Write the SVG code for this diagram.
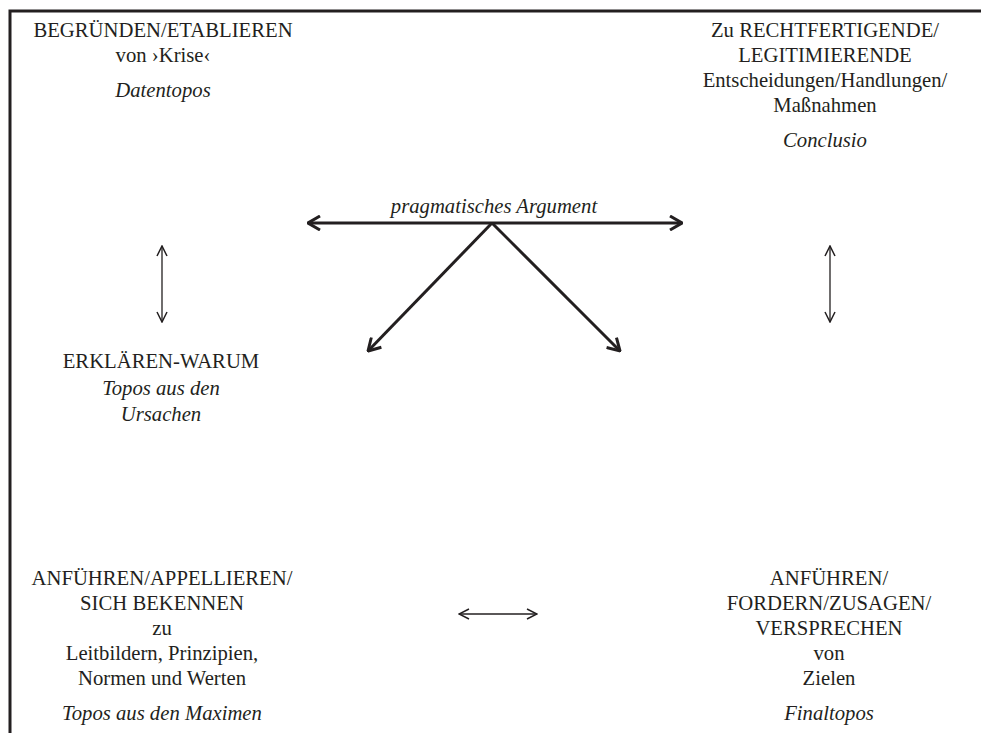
<svg xmlns="http://www.w3.org/2000/svg" width="981" height="733" viewBox="0 0 981 733">
<defs>
<style>
text{font-family:"Liberation Serif","Times New Roman",serif;font-size:20.7px;fill:#231f20;text-anchor:middle}
.i{font-style:italic}
.thick{stroke:#231f20;stroke-width:3;fill:none}
.thin{stroke:#231f20;stroke-width:1.3;fill:none}
</style>
<marker id="ah" viewBox="0 0 12 12" refX="11" refY="6" markerWidth="12" markerHeight="12" markerUnits="userSpaceOnUse" orient="auto-start-reverse">
<path d="M1 1 L11 6 L1 11" fill="none" stroke="#231f20" stroke-width="1.5"/>
</marker>
<marker id="ahb" viewBox="0 0 14 16" refX="13" refY="8" markerWidth="14" markerHeight="16" markerUnits="userSpaceOnUse" orient="auto-start-reverse">
<path d="M1 1 L13 8 L1 15" fill="none" stroke="#231f20" stroke-width="3"/>
</marker>
</defs>
<rect width="981" height="733" fill="#fff"/>
<path d="M10 733 V11 H981" class="thick"/>
<g id="n1"><text x="163" y="37">BEGRÜNDEN/ETABLIEREN</text><text x="163" y="62">von ›Krise‹</text><text x="163" y="97" class="i">Datentopos</text></g>
<g id="n2"><text x="825" y="37">Zu RECHTFERTIGENDE/</text><text x="825" y="62">LEGITIMIERENDE</text><text x="825" y="87">Entscheidungen/Handlungen/</text><text x="825" y="112">Maßnahmen</text><text x="825" y="147" class="i">Conclusio</text></g>
<g id="n3"><text x="161" y="368">ERKLÄREN-WARUM</text><text x="161" y="395" class="i">Topos aus den</text><text x="161" y="421" class="i">Ursachen</text></g>
<g id="n4"><text x="162" y="585">ANFÜHREN/APPELLIEREN/</text><text x="162" y="610">SICH BEKENNEN</text><text x="162" y="635">zu</text><text x="162" y="660">Leitbildern, Prinzipien,</text><text x="162" y="685">Normen und Werten</text><text x="162" y="720" class="i">Topos aus den Maximen</text></g>
<g id="n5"><text x="829" y="585">ANFÜHREN/</text><text x="829" y="610">FORDERN/ZUSAGEN/</text><text x="829" y="635">VERSPRECHEN</text><text x="829" y="660">von</text><text x="829" y="685">Zielen</text><text x="829" y="720" class="i">Finaltopos</text></g>
<g id="connectors">
<text x="494" y="213" class="i">pragmatisches Argument</text>
<path d="M308 223 H682" class="thick" marker-start="url(#ahb)" marker-end="url(#ahb)"/>
<path d="M492 223 L368 351" class="thick" marker-end="url(#ahb)"/>
<path d="M492 223 L620 351" class="thick" marker-end="url(#ahb)"/>
<path d="M162 246 V322" class="thin" marker-start="url(#ah)" marker-end="url(#ah)"/>
<path d="M830 246 V322" class="thin" marker-start="url(#ah)" marker-end="url(#ah)"/>
<path d="M459 614 H537" class="thin" marker-start="url(#ah)" marker-end="url(#ah)"/>
</g>
</svg>
